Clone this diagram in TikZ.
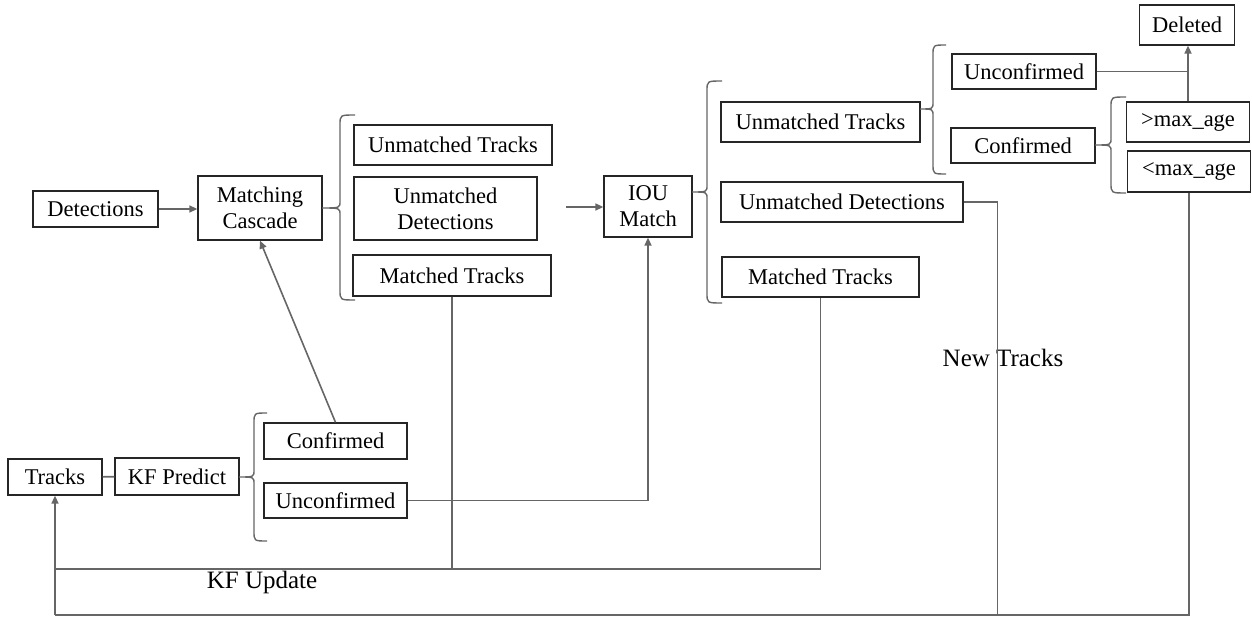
\documentclass[tikz,border=0pt]{standalone}
\usepackage{fontspec}
\setmainfont{Liberation Serif}
\usetikzlibrary{arrows.meta}

% left curly brace: right end x, spine x, tip x, top y, tip y, bottom y
\newcommand{\wbrace}[6]{%
  \draw[brc] (#1,#4) .. controls (#2,#4) .. (#2,#4+10) -- (#2,#5-7)
    .. controls (#2,#5) .. (#3,#5) .. controls (#2,#5) .. (#2,#5+7)
    -- (#2,#6-10) .. controls (#2,#6) .. (#1,#6);}

\tikzset{
  box/.style={draw=black!85, line width=1.3pt, inner sep=0pt, align=center,
              font=\fontsize{22.5}{26}\selectfont},
  wire/.style={draw=black!60, line width=1.6pt},
  arr/.style={wire, -{Triangle[length=8pt,width=7pt]}},
  brc/.style={draw=black!60, line width=1.4pt},
  lbl/.style={inner sep=0pt, font=\fontsize{25}{28}\selectfont},
}

\begin{document}
\begin{tikzpicture}[x=1pt, y=-1pt]
\useasboundingbox (0,0) rectangle (1252,617);

% first stage
\node[box, minimum width=125pt, minimum height=36pt] (det) at (95.5,209) {Detections};
\node[box, minimum width=124pt, minimum height=64pt] (mc) at (260,208) {Matching\\Cascade};
\node[box, minimum width=198pt, minimum height=40pt] (ut1) at (453,145) {Unmatched Tracks};
\node[box, minimum width=183pt, minimum height=63pt] (ud1) at (445.5,208.5) {Unmatched\\Detections};
\node[box, minimum width=198pt, minimum height=41pt] (mt1) at (452,275.5) {Matched Tracks};

% second stage
\node[box, minimum width=88pt, minimum height=61pt] (iou) at (648,206.5) {IOU\\Match};
\node[box, minimum width=199pt, minimum height=40pt] (ut2) at (820.5,122) {Unmatched Tracks};
\node[box, minimum width=242pt, minimum height=40pt] (ud2) at (842,202) {Unmatched Detections};
\node[box, minimum width=197pt, minimum height=40pt] (mt2) at (820.5,277) {Matched Tracks};

% track state
\node[box, minimum width=144pt, minimum height=35pt] (unc2) at (1024,71.5) {Unconfirmed};
\node[box, minimum width=144pt, minimum height=35pt] (conf2) at (1023,145.5) {Confirmed};
\node[box, minimum width=123pt, minimum height=40pt] (gt) at (1188,122) {>max\_age};
\node[box, minimum width=123pt, minimum height=41pt] (lt) at (1189,171.5) {<max\_age};
\node[box, minimum width=95pt, minimum height=40pt] (del) at (1187,25) {Deleted};

% prediction
\node[box, minimum width=94pt, minimum height=36pt] (tracks) at (55,477) {Tracks};
\node[box, minimum width=124pt, minimum height=37pt] (kfp) at (177,476.5) {KF Predict};
\node[box, minimum width=143pt, minimum height=36pt] (conf1) at (335.5,441) {Confirmed};
\node[box, minimum width=143pt, minimum height=35pt] (unc1) at (335.5,500.5) {Unconfirmed};

% labels
\node[lbl] (kfu) at (262,582) {KF Update};
\node[lbl] (ntr) at (1003,358) {New Tracks};

% braces
\wbrace{355}{340}{322}{115}{208}{300}
\wbrace{722}{707}{692}{81}{192}{303}
\wbrace{946}{933}{920}{45}{109}{174}
\wbrace{1126}{1111}{1095}{97}{145}{193}
\wbrace{267}{254}{239}{413}{477}{541}

% connectors
\coordinate (udout) at (566,207);
\coordinate (kfl) at (55,569);
\coordinate (bot) at (55,615);

\draw[arr] (det.east) -- (det.east -| mc.west);
\draw[arr] (udout) -- (udout -| iou.west);
\draw[arr] (conf1.north) -- (mc.south);
\draw[arr] (unc1.east) -| (iou.south);
\draw[wire] (tracks) -- (kfp);
\draw[wire] (mt1.south) -- (mt1.south |- kfl);
\draw[wire] (mt2.south) |- (kfl);
\draw[wire] (ud2.east) -- ++(34,0) |- (bot);
\draw[wire] (lt.south) |- (bot);
\draw[arr] (bot) -- (tracks.south);
\draw[arr] (gt.north) -- (gt.north |- del.south);
\draw[wire] (unc2.east) -- (unc2.east -| gt.north);
\end{tikzpicture}
\end{document}
